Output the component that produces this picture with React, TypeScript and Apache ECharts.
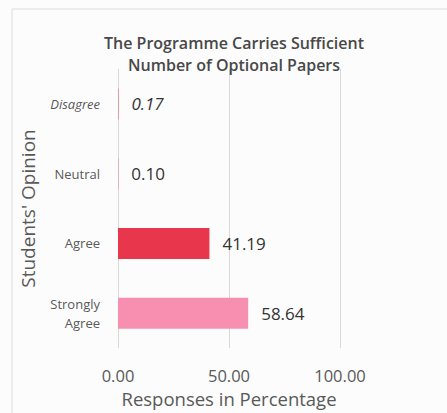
import React, { useEffect, useRef } from "react";
import * as echarts from "echarts";

const categories = ["Strongly\nAgree", "Agree", "Neutral", "Disagree"];
const values = [58.64, 41.19, 0.1, 0.17];
const barColors = ["#f78fb0", "#e8364c", "#e8364c", "#e8364c"];
const xTicks = [0, 50, 100];
const titleLines = ["The Programme Carries Sufficient", "Number of Optional Papers"];

const FONT = "'Open Sans', 'Noto Sans', sans-serif";

export default function App() {
  const ref = useRef<HTMLDivElement>(null);
  useEffect(() => {
    const chart = echarts.init(ref.current!, undefined, { renderer: "svg" });
    chart.setOption({
      animation: false,
      backgroundColor: "#fcfcfc",
      textStyle: { fontFamily: FONT },
      graphic: [
        {
          type: "rect",
          shape: { x: 12, y: 9, width: 600, height: 600 },
          style: { fill: "none", stroke: "#dcdcdc", lineWidth: 1 },
          silent: true,
        },
        {
          type: "text",
          x: 234,
          y: 32,
          z: 10,
          style: {
            text: titleLines.join("\n"),
            textAlign: "center",
            fill: "#484848",
            font: `600 16px ${FONT}`,
            lineHeight: 22,
          },
        },
      ],
      grid: { left: 118, right: 107, top: 69, bottom: 65, containLabel: false },
      xAxis: {
        type: "value",
        min: 0,
        max: 100,
        interval: 50,
        name: "Responses in Percentage",
        nameLocation: "middle",
        nameGap: 41,
        nameTextStyle: { fontSize: 18.5, color: "#595959", fontFamily: FONT },
        axisLabel: {
          formatter: (v: number) => (xTicks.includes(v) ? v.toFixed(2) : ""),
          fontSize: 16.5,
          color: "#595959",
          margin: 19,
          fontFamily: FONT,
        },
        axisLine: { show: false },
        axisTick: { show: false },
        splitLine: { show: true, lineStyle: { color: "#d9d9d9", width: 1 } },
      },
      yAxis: {
        type: "category",
        data: categories,
        name: "Students' Opinion",
        nameLocation: "middle",
        nameGap: 81,
        nameTextStyle: { fontSize: 19, color: "#595959", fontFamily: FONT },
        axisLine: { show: false },
        axisTick: { show: false },
        axisLabel: {
          fontSize: 13,
          color: "#595959",
          margin: 18,
          align: "right",
          lineHeight: 19,
          fontFamily: FONT,
          formatter: (v: string) => (v === "Disagree" ? "{i|" + v + "}" : v),
          rich: { i: { fontStyle: "italic", fontSize: 13, color: "#595959", fontFamily: FONT } },
        },
      },
      series: [
        {
          type: "bar",
          barWidth: 31,
          data: values.map((v, i) => ({
            value: v,
            itemStyle: { color: barColors[i] },
            label: i === 3 ? { fontStyle: "italic" } : {},
          })),
          label: {
            show: true,
            position: "right",
            distance: 13,
            fontSize: 17,
            color: "#333333",
            fontFamily: FONT,
            formatter: (p: any) => Number(p.value).toFixed(2),
          },
        },
      ],
    });
    return () => chart.dispose();
  }, []);
  return <div ref={ref} style={{ width: 447, height: 413, position: "absolute", left: 0, top: 0 }} />;
}
